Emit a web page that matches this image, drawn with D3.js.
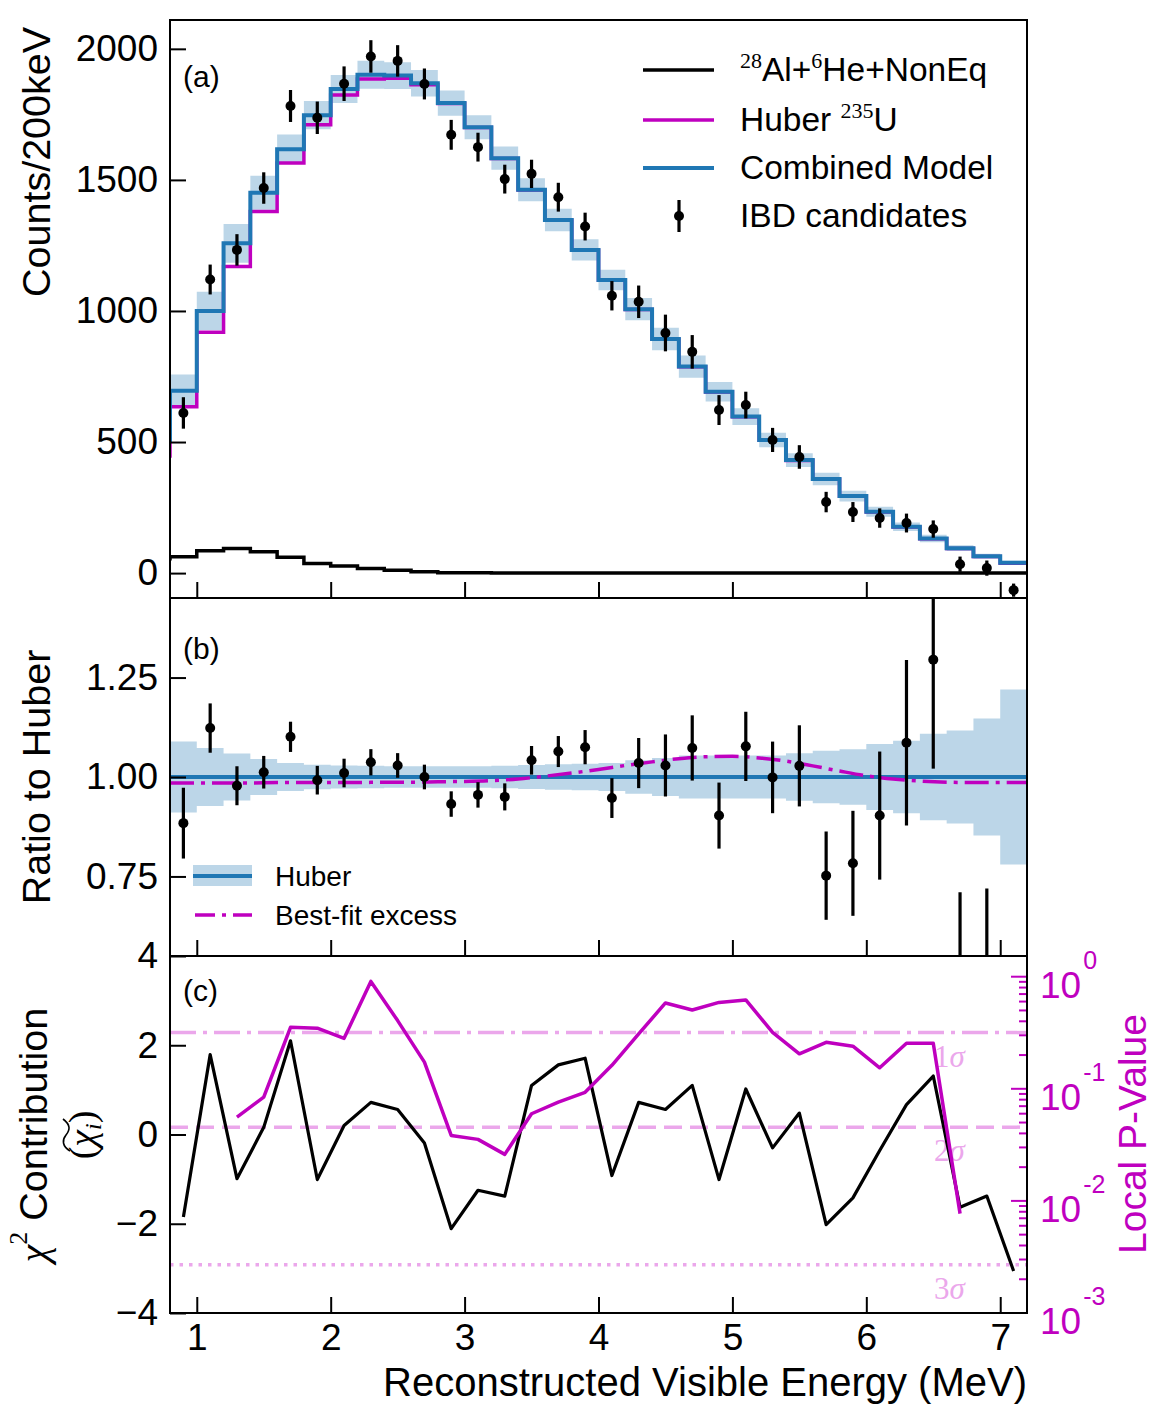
<!DOCTYPE html>
<html>
<head>
<meta charset="utf-8">
<script src="https://cdn.jsdelivr.net/npm/d3@7"></script>
<style>body { margin: 0; background: #fff; }</style>
</head>
<body>
<script>
// bin centres (MeV), 200 keV bins
const energy = [0.9, 1.1, 1.3, 1.5, 1.7, 1.9, 2.1, 2.3, 2.5, 2.7, 2.9, 3.1, 3.3, 3.5, 3.7, 3.9,
    4.1, 4.3, 4.5, 4.7, 4.9, 5.1, 5.3, 5.5, 5.7, 5.9, 6.1, 6.3, 6.5, 6.7, 6.9, 7.1];
const ibdCounts = [611, 1120, 1233, 1469, 1782, 1737, 1867, 1971, 1954, 1866, 1672, 1625, 1503, 1523, 1434, 1322,
    1058, 1035, 916, 844, 622, 641, 508, 443, 271, 233, 210, 191, 168, 34, 19, -65];
const ibdErr = [60, 57, 60, 60, 61, 62, 66, 62, 60, 59, 57, 55, 55, 54, 55, 53,
    56, 62, 70, 64, 57, 51, 46, 45, 39, 38, 37, 36, 33, 29, 29, 25];

// model histograms (first bin 0.6-0.8 only shows as the step at the left edge)
const modelEnergy = [0.7, 0.9, 1.1, 1.3, 1.5, 1.7, 1.9, 2.1, 2.3, 2.5, 2.7, 2.9, 3.1, 3.3, 3.5, 3.7, 3.9,
    4.1, 4.3, 4.5, 4.7, 4.9, 5.1, 5.3, 5.5, 5.7, 5.9, 6.1, 6.3, 6.5, 6.7, 6.9, 7.1];
const combinedModel = [508, 696, 1000, 1258, 1451, 1617, 1747, 1847, 1901, 1898, 1869, 1793, 1701, 1583, 1462, 1347, 1233,
    1118, 1007, 893, 788, 692, 597, 508, 431, 359, 294, 234, 177, 132, 95, 64, 39];
const huberModel = [447, 635, 919, 1170, 1379, 1564, 1710, 1824, 1885, 1888, 1863, 1791, 1700, 1582, 1461, 1346, 1232,
    1117, 1006, 892, 787, 691, 596, 507, 430, 358, 293, 233, 176, 131, 94, 63, 38];
const bkgModel = [55, 62, 85, 94, 81, 60, 37, 27, 18, 11, 5, 1, 1, 0.5, 0.5, 0.3, 0.2,
    0.1, 0, 0, 0, 0, 0, 0, 0, 0, 0, 0, 0, 0, 0, 0, 0];
const modelRelErr = [0.09, 0.089, 0.073, 0.059, 0.045, 0.035, 0.031, 0.029, 0.028, 0.027, 0.027, 0.027, 0.027, 0.028, 0.030, 0.032, 0.033,
    0.035, 0.042, 0.048, 0.054, 0.054, 0.054, 0.054, 0.060, 0.066, 0.070, 0.083, 0.091, 0.109, 0.117, 0.147, 0.22];

// panel (b)
const ratio = [0.884, 1.123, 0.978, 1.012, 1.101, 0.992, 1.010, 1.037, 1.029, 1.000, 0.932, 0.955, 0.950, 1.042, 1.064, 1.075,
    0.947, 1.035, 1.029, 1.073, 0.903, 1.077, 0.999, 1.028, 0.752, 0.783, 0.903, 1.086, 1.295, 0.38, 0.28, -1.7];
const ratioErr = [0.089, 0.062, 0.049, 0.041, 0.038, 0.036, 0.036, 0.033, 0.031, 0.031, 0.032, 0.032, 0.034, 0.036, 0.039, 0.043,
    0.050, 0.063, 0.078, 0.082, 0.083, 0.087, 0.090, 0.102, 0.111, 0.132, 0.161, 0.208, 0.274, 0.33, 0.44, 0.65];
const excessEnergy = [0.8, 1.0, 1.2, 1.4, 1.6, 1.8, 2.0, 2.2, 2.4, 2.6, 2.8, 3.0, 3.2, 3.4, 3.6, 3.8, 4.0,
    4.2, 4.4, 4.6, 4.8, 5.0, 5.2, 5.4, 5.6, 5.8, 6.0, 6.2, 6.4, 6.6, 6.8, 7.0, 7.2];
const excessRatio = [0.985, 0.985, 0.985, 0.985, 0.986, 0.986, 0.986, 0.986, 0.987, 0.987, 0.988, 0.989, 0.991, 0.995, 1.002, 1.010, 1.019,
    1.029, 1.038, 1.046, 1.051, 1.052, 1.048, 1.040, 1.028, 1.015, 1.003, 0.995, 0.990, 0.987, 0.986, 0.986, 0.986];

// panel (c)
const chiContribution = [-1.85, 1.79, -0.99, 0.16, 2.10, -1.01, 0.20, 0.72, 0.56, -0.19, -2.11, -1.25, -1.38, 1.10, 1.56, 1.71,
    -0.92, 0.72, 0.56, 1.10, -1.01, 1.02, -0.30, 0.48, -2.02, -1.42, -0.36, 0.67, 1.31, -1.63, -1.38, -3.06];
const pEnergy = [1.3, 1.5, 1.7, 1.9, 2.1, 2.3, 2.5, 2.7, 2.9, 3.1, 3.3, 3.5, 3.7, 3.9,
    4.1, 4.3, 4.5, 4.7, 4.9, 5.1, 5.3, 5.5, 5.7, 5.9, 6.1, 6.3, 6.5, 6.7];
const pValue = [0.0559, 0.0842, 0.354, 0.347, 0.282, 0.908, 0.406, 0.173, 0.0384, 0.0354, 0.026, 0.0599, 0.076, 0.093,
    0.162, 0.309, 0.583, 0.505, 0.59, 0.62, 0.319, 0.205, 0.26, 0.24, 0.154, 0.255, 0.255, 0.0077];
const sigmaP = [0.3173, 0.0455, 0.0027];
const sigmaNames = ['1', '2', '3'];

// ticks
const energyTicks = [1, 2, 3, 4, 5, 6, 7];
const countTicks = [0, 500, 1000, 1500, 2000];
const ratioTicks = [0.75, 1.00, 1.25];
const chiTicks = [-4, -2, 0, 2, 4];
const pMajorTicks = [1e-3, 1e-2, 1e-1, 1e0];
const pExponents = ['-3', '-2', '-1', '0'];

const FONT = '"Liberation Sans", Arial, Helvetica, sans-serif';
const SERIF = '"Liberation Serif", "Times New Roman", serif';
const BLUE = '#1f77b4', MAG = '#bf00bf', BAND = '#bcd6e8', SIG = '#eba7eb';
const LEFT = 170, RIGHT = 1027;
const panels = {
    a: { top: 20, bottom: 598 },
    b: { top: 598, bottom: 956 },
    c: { top: 956, bottom: 1313 }
};

const svg = d3.select('body').append('svg')
    .attr('width', 1170).attr('height', 1414)
    .style('display', 'block')
    .attr('font-family', FONT);

const defs = svg.append('defs');
Object.entries(panels).forEach(([k, p]) => {
    defs.append('clipPath').attr('id', 'clip-' + k)
        .append('rect')
        .attr('x', LEFT).attr('y', p.top)
        .attr('width', RIGHT - LEFT).attr('height', p.bottom - p.top);
});

const x = d3.scaleLinear().domain([0.8, 7.2]).range([LEFT, RIGHT]);
const yA = d3.scaleLinear().domain([-95, 2110]).range([panels.a.bottom, panels.a.top]);
const yB = d3.scaleLinear().domain([0.55, 1.45]).range([panels.b.bottom, panels.b.top]);
const yC = d3.scaleLinear().domain([-4, 4]).range([panels.c.bottom, panels.c.top]);
const yP = d3.scaleLog().domain([1e-3, 1.53]).range([panels.c.bottom, panels.c.top]);

// helpers
const stepPoints = (centers, vals) => {
    const pts = centers.map((c, i) => ({ e: c - 0.1, v: vals[i] }));
    pts.push({ e: centers[centers.length - 1] + 0.1, v: vals[vals.length - 1] });
    return pts;
};
const stepLine = (yScale) => d3.line().x(d => x(d.e)).y(d => yScale(d.v)).curve(d3.curveStepAfter);
const bandArea = (yScale) => d3.area().x(d => x(d.e)).y0(d => yScale(d.lo)).y1(d => yScale(d.hi)).curve(d3.curveStepAfter);

const errorBars = (g, yScale, vals, errs) => {
    const pts = energy.map((e, i) => ({ e: e, v: vals[i], err: errs[i] }));
    g.selectAll('line.eb').data(pts).enter().append('line')
        .attr('class', 'eb')
        .attr('x1', d => x(d.e)).attr('x2', d => x(d.e))
        .attr('y1', d => yScale(d.v - d.err)).attr('y2', d => yScale(d.v + d.err))
        .attr('stroke', '#000').attr('stroke-width', 3.2);
    g.selectAll('circle.pt').data(pts).enter().append('circle')
        .attr('class', 'pt')
        .attr('cx', d => x(d.e)).attr('cy', d => yScale(d.v))
        .attr('r', 5).attr('fill', '#000');
};

const styleAxis = (g) => {
    g.select('.domain').remove();
    g.attr('font-size', 37).attr('font-family', FONT);
    g.selectAll('.tick line').attr('stroke', '#000').attr('stroke-width', 2);
    g.selectAll('.tick text').attr('fill', '#000');
};

const leftAxis = (yScale, ticks, fmt) => {
    svg.append('g').attr('transform', `translate(${LEFT},0)`)
        .call(d3.axisLeft(yScale).tickValues(ticks).tickFormat(fmt).tickSizeInner(-16).tickSizeOuter(0).tickPadding(12))
        .call(styleAxis);
};
const bottomAxis = (bottom, withLabels) => {
    svg.append('g').attr('transform', `translate(0,${bottom})`)
        .call(d3.axisBottom(x).tickValues(energyTicks)
            .tickFormat(withLabels ? d3.format('d') : () => '')
            .tickSizeInner(-16).tickSizeOuter(0).tickPadding(11))
        .call(styleAxis);
};

// ---------- panel (a) ----------
const gA = svg.append('g').attr('clip-path', 'url(#clip-a)');
const bandA = modelEnergy.map((c, i) => ({ e: c - 0.1, lo: combinedModel[i] * (1 - modelRelErr[i]), hi: combinedModel[i] * (1 + modelRelErr[i]) }));
bandA.push({ e: 7.2, lo: bandA[bandA.length - 1].lo, hi: bandA[bandA.length - 1].hi });
gA.append('path').datum(bandA).attr('d', bandArea(yA)).attr('fill', BAND);
gA.append('path').datum(stepPoints(modelEnergy, huberModel)).attr('d', stepLine(yA))
    .attr('fill', 'none').attr('stroke', MAG).attr('stroke-width', 3.5);
gA.append('path').datum(stepPoints(modelEnergy, combinedModel)).attr('d', stepLine(yA))
    .attr('fill', 'none').attr('stroke', BLUE).attr('stroke-width', 4);
gA.append('path').datum(stepPoints(modelEnergy, bkgModel)).attr('d', stepLine(yA))
    .attr('fill', 'none').attr('stroke', '#000').attr('stroke-width', 3.5);
errorBars(gA, yA, ibdCounts, ibdErr);

// legend (a)
const legA = svg.append('g');
[{ y: 70, c: '#000' }, { y: 120, c: MAG }, { y: 168, c: BLUE }].forEach(d => {
    legA.append('line').attr('x1', 643).attr('x2', 714).attr('y1', d.y).attr('y2', d.y)
        .attr('stroke', d.c).attr('stroke-width', d.c === BLUE ? 4 : 3.5);
});
legA.append('line').attr('x1', 679).attr('x2', 679).attr('y1', 200).attr('y2', 232).attr('stroke', '#000').attr('stroke-width', 3.2);
legA.append('circle').attr('cx', 679).attr('cy', 216).attr('r', 5).attr('fill', '#000');
const t1 = legA.append('text').attr('x', 740).attr('y', 81).attr('font-size', 33.5);
t1.append('tspan').attr('font-family', SERIF).attr('font-size', 22).attr('dy', -13).text('28');
t1.append('tspan').attr('dy', 13).text('Al+');
t1.append('tspan').attr('font-family', SERIF).attr('font-size', 22).attr('dy', -13).text('6');
t1.append('tspan').attr('dy', 13).text('He+NonEq');
const t2 = legA.append('text').attr('x', 740).attr('y', 131).attr('font-size', 33.5);
t2.append('tspan').text('Huber ');
t2.append('tspan').attr('font-family', SERIF).attr('font-size', 22).attr('dy', -13).text('235');
t2.append('tspan').attr('dy', 13).text('U');
legA.append('text').attr('x', 740).attr('y', 179).attr('font-size', 33.5).text('Combined Model');
legA.append('text').attr('x', 740).attr('y', 227).attr('font-size', 33.5).text('IBD candidates');

// ---------- panel (b) ----------
const gB = svg.append('g').attr('clip-path', 'url(#clip-b)');
const bandB = modelEnergy.map((c, i) => ({ e: c - 0.1, lo: 1 - modelRelErr[i], hi: 1 + modelRelErr[i] }));
bandB.push({ e: 7.2, lo: bandB[bandB.length - 1].lo, hi: bandB[bandB.length - 1].hi });
gB.append('path').datum(bandB).attr('d', bandArea(yB)).attr('fill', BAND);
gB.append('line').attr('x1', LEFT).attr('x2', RIGHT).attr('y1', yB(1)).attr('y2', yB(1))
    .attr('stroke', BLUE).attr('stroke-width', 4);
gB.append('path').datum(excessEnergy.map((e, i) => [e, excessRatio[i]]))
    .attr('d', d3.line().x(d => x(d[0])).y(d => yB(d[1])).curve(d3.curveMonotoneX))
    .attr('fill', 'none').attr('stroke', MAG).attr('stroke-width', 3.5)
    .attr('stroke-dasharray', '24,7,4,7');
errorBars(gB, yB, ratio, ratioErr);

// legend (b)
const legB = svg.append('g');
legB.append('rect').attr('x', 193).attr('y', 865).attr('width', 59).attr('height', 21).attr('fill', BAND);
legB.append('line').attr('x1', 193).attr('x2', 252).attr('y1', 876).attr('y2', 876).attr('stroke', BLUE).attr('stroke-width', 4);
legB.append('line').attr('x1', 195).attr('x2', 252).attr('y1', 915).attr('y2', 915)
    .attr('stroke', MAG).attr('stroke-width', 3.5).attr('stroke-dasharray', '20,7,4,7');
legB.append('text').attr('x', 275).attr('y', 886).attr('font-size', 28).text('Huber');
legB.append('text').attr('x', 275).attr('y', 925).attr('font-size', 28).text('Best-fit excess');

// ---------- panel (c) ----------
const gC = svg.append('g').attr('clip-path', 'url(#clip-c)');
const sigmaDash = ['26,7,4,7', '18,8', '3.5,6'];
sigmaP.forEach((p, i) => {
    gC.append('line').attr('x1', LEFT).attr('x2', RIGHT).attr('y1', yP(p)).attr('y2', yP(p))
        .attr('stroke', SIG).attr('stroke-width', 3.5).attr('stroke-dasharray', sigmaDash[i]);
    const st = gC.append('text').attr('x', 934).attr('y', yP(p) + 34)
        .attr('font-family', SERIF).attr('font-size', 31).attr('fill', SIG);
    st.append('tspan').text(sigmaNames[i]);
    st.append('tspan').attr('font-style', 'italic').text('σ');
});
gC.append('path').datum(energy.map((e, i) => [e, chiContribution[i]]))
    .attr('d', d3.line().x(d => x(d[0])).y(d => yC(d[1])))
    .attr('fill', 'none').attr('stroke', '#000').attr('stroke-width', 3.2).attr('stroke-linejoin', 'round');
gC.append('path').datum(pEnergy.map((e, i) => [e, pValue[i]]))
    .attr('d', d3.line().x(d => x(d[0])).y(d => yP(d[1])))
    .attr('fill', 'none').attr('stroke', MAG).attr('stroke-width', 3.5).attr('stroke-linejoin', 'round');

// right log axis
const gR = svg.append('g');
const minorTicks = [];
[-3, -2, -1].forEach(k => { for (let m = 2; m <= 9; m++) minorTicks.push(m * Math.pow(10, k)); });
gR.selectAll('line.minor').data(minorTicks).enter().append('line')
    .attr('x1', RIGHT - 8).attr('x2', RIGHT).attr('y1', d => yP(d)).attr('y2', d => yP(d))
    .attr('stroke', MAG).attr('stroke-width', 2);
gR.selectAll('line.major').data(pMajorTicks).enter().append('line')
    .attr('x1', RIGHT - 16).attr('x2', RIGHT).attr('y1', d => yP(d)).attr('y2', d => yP(d))
    .attr('stroke', MAG).attr('stroke-width', 2);
pMajorTicks.forEach((p, i) => {
    const t = gR.append('text').attr('x', 1040).attr('y', yP(p) + 21)
        .attr('font-size', 37).attr('fill', MAG);
    t.append('tspan').text('10');
    t.append('tspan').attr('font-size', 25).attr('dy', -29).attr('dx', 2).text(pExponents[i]);
});

// axes
leftAxis(yA, countTicks, d3.format('d'));
leftAxis(yB, ratioTicks, d3.format('.2f'));
leftAxis(yC, chiTicks, d3.format('d'));
bottomAxis(panels.a.bottom, false);
bottomAxis(panels.b.bottom, false);
bottomAxis(panels.c.bottom, true);

// frames
Object.values(panels).forEach(p => {
    svg.append('rect').attr('x', LEFT).attr('y', p.top)
        .attr('width', RIGHT - LEFT).attr('height', p.bottom - p.top)
        .attr('fill', 'none').attr('stroke', '#000').attr('stroke-width', 2);
});

// panel tags
svg.append('text').attr('x', 183).attr('y', 87).attr('font-size', 30).text('(a)');
svg.append('text').attr('x', 183).attr('y', 659).attr('font-size', 30).text('(b)');
svg.append('text').attr('x', 183).attr('y', 1001).attr('font-size', 30).text('(c)');

// axis titles
svg.append('text').attr('transform', 'translate(50,297) rotate(-90)')
    .attr('font-size', 39.5).attr('text-anchor', 'start').text('Counts/200keV');
svg.append('text').attr('transform', 'translate(50,777) rotate(-90)')
    .attr('font-size', 39.5).attr('text-anchor', 'middle').text('Ratio to Huber');
const chiLab = svg.append('text').attr('transform', 'translate(47,1135) rotate(-90)')
    .attr('font-size', 39.5).attr('text-anchor', 'middle');
chiLab.append('tspan').attr('font-family', SERIF).attr('font-style', 'italic').text('χ');
chiLab.append('tspan').attr('font-family', SERIF).attr('font-size', 26).attr('dy', -20).text('2');
chiLab.append('tspan').attr('dy', 20).text(' Contribution');

// (chi~_i) with a wide tilde drawn over chi_i
const chiSubG = svg.append('g').attr('transform', 'translate(95,1135) rotate(-90)');
const chiSub = chiSubG.append('text')
    .attr('font-family', SERIF).attr('font-size', 38).attr('text-anchor', 'middle');
chiSub.append('tspan').text('(');
chiSub.append('tspan').attr('font-style', 'italic').text('χ');
chiSub.append('tspan').attr('font-style', 'italic').attr('font-size', 24).attr('dy', 6).text('i');
chiSub.append('tspan').attr('dy', -6).text(')');
chiSubG.append('path')
    .attr('d', 'M -16,-25 C -11,-33 -5,-33 0,-29 S 10,-24 16,-32')
    .attr('fill', 'none').attr('stroke', '#000').attr('stroke-width', 1.6);

svg.append('text').attr('transform', 'translate(1146,1134) rotate(-90)')
    .attr('font-size', 39).attr('text-anchor', 'middle').attr('fill', MAG).text('Local P-Value');
svg.append('text').attr('x', RIGHT).attr('y', 1396)
    .attr('font-size', 40).attr('text-anchor', 'end').text('Reconstructed Visible Energy (MeV)');
</script>
</body>
</html>
